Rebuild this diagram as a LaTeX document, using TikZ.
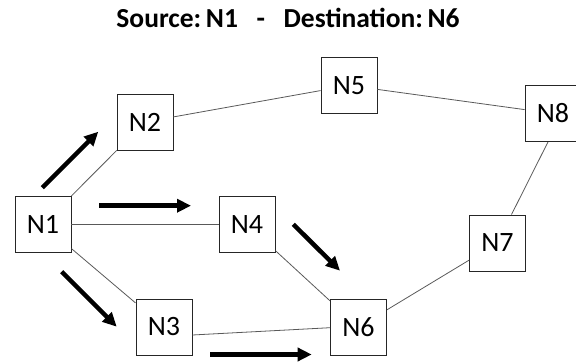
\documentclass[tikz,border=0pt]{standalone}
\usepackage{fontspec}
\setmainfont{Carlito}
\usetikzlibrary{arrows.meta}
\tikzset{
  netnode/.style={draw=black!85, line width=0.9pt, fill=white, minimum width=56pt, minimum height=56pt, inner sep=0pt, font=\fontsize{28}{30}\selectfont},
  link/.style={draw=black!65, line width=0.8pt},
  flow/.style={line width=4.5pt, -{Triangle[length=14pt,width=13pt]}}
}
\begin{document}
\begin{tikzpicture}[x=1pt,y=-1pt]
\useasboundingbox (0,0) rectangle (576,363);
\node[font=\bfseries\fontsize{27.5}{29}\selectfont] (title) at (288,17.5) {Source:\,N1\ \ \ -\ \ \ Destination:\,N6};
\node[netnode] (N1) at (43,224.5) {N1};
\node[netnode] (N2) at (145,122) {N2};
\node[netnode] (N3) at (164,327) {N3};
\node[netnode] (N4) at (247,224.5) {N4};
\node[netnode] (N5) at (349,85.5) {N5};
\node[netnode] (N6) at (358.5,327) {N6};
\node[netnode] (N7) at (497.5,243) {N7};
\node[netnode] (N8) at (553,113.5) {N8};
\draw[link] (N1) -- (N2);
\draw[link] (N1) -- (N4);
\draw[link] (N1) -- (N3);
\draw[link] (N2) -- (N5);
\draw[link] (N5) -- (N8);
\draw[link] ([xshift=-5pt]N8.south) -- ([xshift=14pt]N7.north);
\draw[link] (N7) -- (N6);
\draw[link] (N4) -- (N6);
\draw[link] ([yshift=-8pt]N3.east) -- ([yshift=-0.7pt]N6.west);
\coordinate (a1s) at (42.3,187.7); \coordinate (a1e) at (98.3,131.7);
\coordinate (a2s) at (99,205.7);   \coordinate (a2e) at (191,205.7);
\coordinate (a3s) at (61.7,271.7); \coordinate (a3e) at (116.7,326.7);
\coordinate (a4s) at (210,354.5);  \coordinate (a4e) at (311.7,354.5);
\coordinate (a5s) at (293.3,224.3); \coordinate (a5e) at (340,270.7);
\draw[flow] (a1s) -- (a1e);
\draw[flow] (a2s) -- (a2e);
\draw[flow] (a3s) -- (a3e);
\draw[flow] (a4s) -- (a4e);
\draw[flow] (a5s) -- (a5e);
\end{tikzpicture}
\end{document}
